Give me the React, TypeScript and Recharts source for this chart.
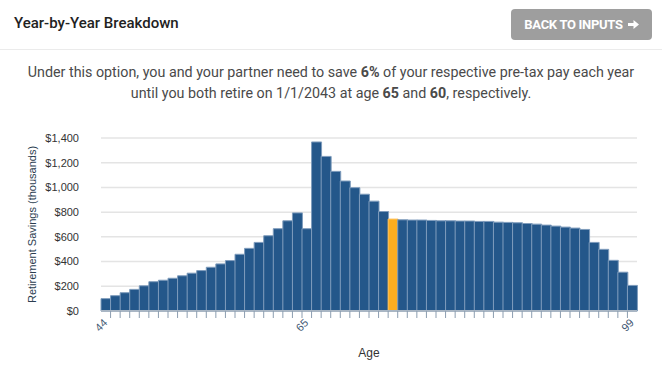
import React from 'react';
import { BarChart, Bar, XAxis, YAxis, CartesianGrid, Cell } from 'recharts';

// ages on the x axis, one bar per year
const ages = [
  44, 45, 46, 47, 48, 49, 50, 51, 52, 53, 54, 55, 56, 57, 58, 59, 60, 61, 62, 63,
  64, 65, 66, 67, 68, 69, 70, 71, 72, 73, 74, 75, 76, 77, 78, 79, 80, 81, 82, 83,
  84, 85, 86, 87, 88, 89, 90, 91, 92, 93, 94, 95, 96, 97, 98, 99,
];

// retirement savings, thousands of dollars
const savings = [
  100, 124, 148, 175, 204, 237, 249, 265, 285, 306, 327, 354, 381, 408, 459, 507, 555, 609, 666, 730,
  794, 666, 1368, 1251, 1130, 1052, 998, 945, 889, 805, 744, 738, 736, 736, 733, 730, 730, 728, 728, 725,
  725, 719, 717, 714, 708, 703, 695, 687, 679, 671, 660, 555, 499, 410, 314, 207,
];

const highlightAge = 74;
const labelledAges = [44, 65, 99];
const yTicks = [0, 200, 400, 600, 800, 1000, 1200, 1400];

const data = ages.map((age, i) => ({ age, savings: savings[i] }));

const CHART_W = 662;
const CHART_H = 255;
const LEFT = 101;
const RIGHT = 25;
const BAND = (CHART_W - LEFT - RIGHT) / ages.length;

const BLUE = '#24578a';
const ORANGE = '#fdae1f';

const fmtMoney = (v: number) => '$' + v.toLocaleString('en-US');

const AgeTick = (props: any) => {
  const { x, y, payload, index } = props;
  const edge = x - BAND / 2;
  const showLabel = labelledAges.includes(payload.value);
  return (
    <g>
      {index > 0 && <line x1={edge} x2={edge} y1={y} y2={y + 7} stroke="#8c9db0" strokeWidth={1} />}
      {showLabel && (
        <text
          x={edge}
          y={y + 14}
          textAnchor="middle"
          dominantBaseline="central"
          transform={`rotate(-45, ${edge}, ${y + 14})`}
          fontSize={11}
          fill="#3f5873"
          fontFamily="Liberation Sans, Arial, sans-serif"
        >
          {payload.value}
        </text>
      )}
    </g>
  );
};

export default function App() {
  return (
    <div style={{ position: 'relative', width: 662, height: 365, fontFamily: 'Roboto, sans-serif', background: '#fff' }}>
      <style>{'body{margin:0}'}</style>
      <div
        style={{
          position: 'absolute', left: 0, top: 0, width: 662, height: 49,
          borderBottom: '1px solid #ebebeb',
        }}
      >
        <div style={{ position: 'absolute', left: 14, top: 14, fontSize: 15, fontWeight: 500, color: '#222' }}>
          Year-by-Year Breakdown
        </div>
        <div
          style={{
            position: 'absolute', left: 511, top: 9, width: 141, height: 31, borderRadius: 4,
            background: '#9e9e9e', color: '#fff', fontSize: 13, fontWeight: 700,
            display: 'flex', alignItems: 'center', justifyContent: 'center', letterSpacing: -0.3,
          }}
        >
          BACK TO INPUTS
          <svg width={11} height={11} viewBox="0 0 10 10" style={{ marginLeft: 5 }}>
            <path d="M0 3.6 H5 V1 L10 5 L5 9 V6.4 H0 Z" fill="#fff" />
          </svg>
        </div>
      </div>
      <div
        style={{
          position: 'absolute', left: 0, top: 62, width: 662, textAlign: 'center',
          fontSize: 14.3, lineHeight: '21px', color: '#4a4a4a',
        }}
      >
        Under this option, you and your partner need to save <b>6%</b> of your respective pre-tax pay each year
        <br />
        until you both retire on 1/1/2043 at age <b>65</b> and <b>60</b>, respectively.
      </div>
      <div style={{ position: 'absolute', left: 0, top: 110 }}>
        <BarChart
          width={CHART_W}
          height={CHART_H}
          data={data}
          margin={{ top: 28, right: RIGHT, left: 0, bottom: 0 }}
          barCategoryGap={0}
        >
          <CartesianGrid vertical={false} stroke="#e4e4e4" strokeWidth={1.5} />
          <YAxis
            width={LEFT}
            domain={[0, 1400]}
            ticks={yTicks}
            tickFormatter={fmtMoney}
            axisLine={false}
            tickLine={false}
            tickMargin={16}
            tick={{ fontSize: 11, fill: '#333', fontFamily: 'Liberation Sans, Arial, sans-serif' }}
            label={{
              content: ({ viewBox }: any) => {
                const cx = viewBox.x + 32;
                const cy = viewBox.y + viewBox.height / 2;
                return (
                  <text
                    x={cx}
                    y={cy}
                    transform={`rotate(-90, ${cx}, ${cy})`}
                    textAnchor="middle"
                    dominantBaseline="central"
                    fontSize={11}
                    fill="#2b3d50"
                    fontFamily="Liberation Sans, Arial, sans-serif"
                  >
                    Retirement Savings (thousands)
                  </text>
                );
              },
            }}
          />
          <XAxis
            dataKey="age"
            height={CHART_H - 28 - 173}
            interval={0}
            tickSize={0}
            tickMargin={0}
            tickLine={false}
            axisLine={{ stroke: '#a9b6c4', strokeWidth: 2 }}
            tick={<AgeTick />}
            label={{
              content: ({ viewBox }: any) => (
                <text
                  x={viewBox.x + viewBox.width / 2}
                  y={viewBox.y + 42}
                  textAnchor="middle"
                  dominantBaseline="central"
                  fontSize={12}
                  fill="#333"
                  fontFamily="Liberation Sans, Arial, sans-serif"
                >
                  Age
                </text>
              ),
            }}
          />
          <Bar dataKey="savings" isAnimationActive={false} stroke="#7f9cbc" strokeWidth={1}>
            {data.map((d) => (
              <Cell
                key={d.age}
                fill={d.age === highlightAge ? ORANGE : BLUE}
                stroke={d.age === highlightAge ? '#ffc460' : '#7f9cbc'}
              />
            ))}
          </Bar>
        </BarChart>
      </div>
    </div>
  );
}
